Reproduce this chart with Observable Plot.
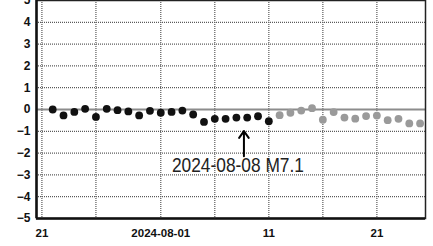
<!DOCTYPE html>
<html><head><meta charset="utf-8">
<script src="https://cdn.jsdelivr.net/npm/d3@7"></script>
<script src="https://cdn.jsdelivr.net/npm/@observablehq/plot@0.6"></script>
<style>html,body{margin:0;padding:0;background:#fff}svg{display:block}</style>
</head><body><div id="chart"></div>
<script>
const finalDates = ["2024-07-22","2024-07-23","2024-07-24","2024-07-25","2024-07-26","2024-07-27","2024-07-28","2024-07-29","2024-07-30","2024-07-31","2024-08-01","2024-08-02","2024-08-03","2024-08-04","2024-08-05","2024-08-06","2024-08-07","2024-08-08","2024-08-09","2024-08-10","2024-08-11"];
const finalValues = [0.0,-0.27,-0.11,0.03,-0.34,0.03,-0.03,-0.09,-0.27,-0.06,-0.15,-0.11,-0.05,-0.23,-0.57,-0.43,-0.43,-0.37,-0.37,-0.31,-0.54];
const prelimDates = ["2024-08-12","2024-08-13","2024-08-14","2024-08-15","2024-08-16","2024-08-17","2024-08-18","2024-08-19","2024-08-20","2024-08-21","2024-08-22","2024-08-23","2024-08-24","2024-08-25"];
const prelimValues = [-0.26,-0.15,-0.05,0.06,-0.47,-0.12,-0.37,-0.42,-0.30,-0.28,-0.49,-0.43,-0.64,-0.64];
const yTicks = [-5,-4,-3,-2,-1,0,1,2,3,4,5];
const xTickDates = ["2024-07-21","2024-08-01","2024-08-11","2024-08-21"];
const xTickLabels = ["21","2024-08-01","11","21"];
const xGridDates = ["2024-07-21","2024-07-26","2024-08-01","2024-08-06","2024-08-11","2024-08-16","2024-08-21"];
const xDomain = ["2024-07-20T12:00:00Z","2024-08-25T12:00:00Z"];
const eventTime = "2024-08-08T16:43:00Z";
const eventLabel = "2024-08-08 M7.1";

const toDate = s => new Date(s.length === 10 ? s + "T00:00:00Z" : s);
const finalData = finalDates.map((d, i) => ({date: toDate(d), value: finalValues[i]}));
const prelimData = prelimDates.map((d, i) => ({date: toDate(d), value: prelimValues[i]}));
const tickMap = new Map(xTickDates.map((d, i) => [+toDate(d), xTickLabels[i]]));
const ev = toDate(eventTime);

const chart = Plot.plot({
  width: 433,
  height: 246,
  marginLeft: 36,
  marginRight: 8,
  marginTop: 0,
  marginBottom: 28,
  style: {fontFamily: "'Liberation Sans', Arial, sans-serif", fontSize: "11px", background: "#fff", color: "#111"},
  x: {type: "utc", domain: xDomain.map(toDate), label: null},
  y: {domain: [-5, 5], label: null},
  marks: [
    Plot.gridY(yTicks.filter(d => d !== 0 && d !== -5 && d !== 5), {stroke: "#333", strokeOpacity: 1, strokeDasharray: "1,1"}),
    Plot.gridX(xGridDates.map(toDate), {stroke: "#666", strokeOpacity: 1, strokeDasharray: "1,1", strokeWidth: 1.3}),
    Plot.ruleY([0], {stroke: "#8c8c8c", strokeWidth: 2}),
    Plot.dot(finalData, {x: "date", y: "value", r: 3.9, fill: "#111", stroke: null}),
    Plot.dot(prelimData, {x: "date", y: "value", r: 3.9, fill: "#9a9a9a", stroke: null}),
    Plot.arrow([ev], {x1: d => d, x2: d => d, y1: -2.14, y2: -0.99, stroke: "#000", strokeWidth: 2, headLength: 10, headAngle: 70}),
    Plot.text([eventLabel], {x: ev, y: -2.57, text: d => d, fontSize: 20, fill: "#222", textAnchor: "middle", dx: -6}),
    Plot.frame({stroke: "#222", strokeWidth: 1.5}),
    Plot.ruleX([toDate(xDomain[0])], {stroke: "#111", strokeWidth: 2.5}),
    Plot.ruleY([-5], {stroke: "#111", strokeWidth: 2.5}),
    Plot.axisY({ticks: yTicks, tickSize: 0, tickPadding: 6, fontWeight: "bold", fontSize: 12, label: null, tickFormat: d => d < 0 ? "\u2212" + Math.abs(d) : String(d)}),
    Plot.axisX({ticks: xTickDates.map(toDate), tickSize: 0, tickPadding: 10, fontWeight: "bold", fontSize: 11.5, label: null, tickFormat: d => tickMap.get(+d)})
  ]
});
document.getElementById("chart").appendChild(chart);
chart.querySelectorAll("text").forEach(t => {
  if (t.textContent === eventLabel) {
    t.setAttribute("textLength", "132");
    t.setAttribute("lengthAdjust", "spacingAndGlyphs");
  }
});
</script>
</body></html>
